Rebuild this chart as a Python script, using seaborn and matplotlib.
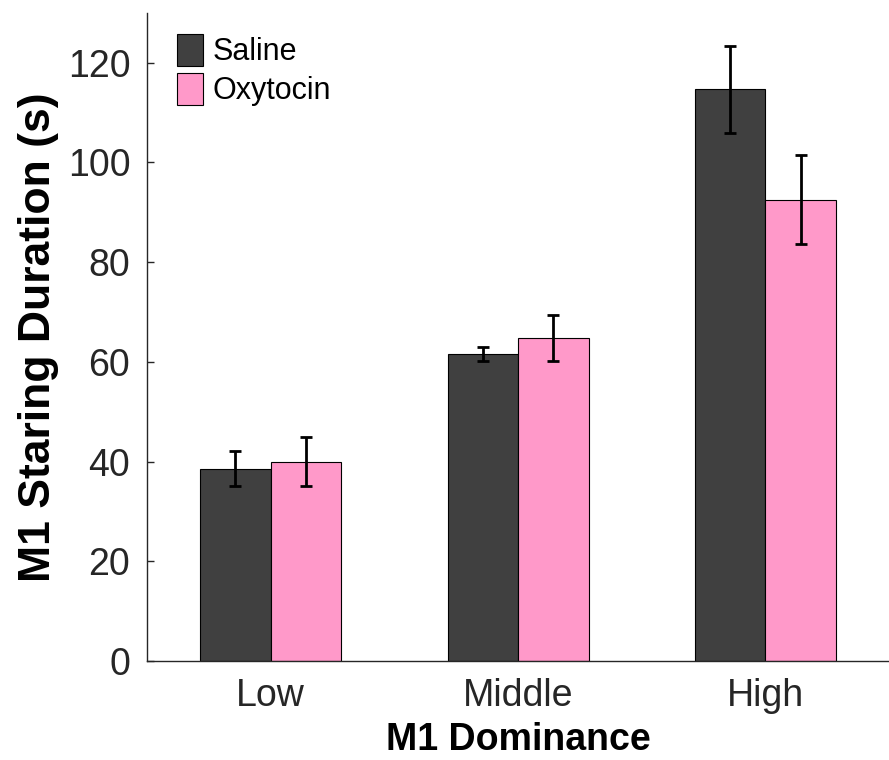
import matplotlib
matplotlib.use("Agg")
import matplotlib.pyplot as plt
import seaborn as sns
import pandas as pd
import numpy as np
from matplotlib.patches import Patch

categories = ["Low", "Middle", "High"]
treatments = ["Saline", "Oxytocin"]
saline_mean = [38.6, 61.6, 114.7]
saline_sem = [3.5, 1.4, 8.7]
oxytocin_mean = [40.0, 64.8, 92.5]
oxytocin_sem = [5.0, 4.7, 8.9]
yticks = [0, 20, 40, 60, 80, 100, 120]

colors = {"Saline": "#404040", "Oxytocin": "#FF99C9"}

df = pd.DataFrame({
    "Dominance": categories * 2,
    "Treatment": ["Saline"] * 3 + ["Oxytocin"] * 3,
    "Duration": saline_mean + oxytocin_mean,
    "SEM": saline_sem + oxytocin_sem,
})

sns.set_style("ticks")
plt.rcParams["font.family"] = ["Liberation Sans", "DejaVu Sans"]

fig = plt.figure(figsize=(8.89, 7.6), dpi=100)
ax = fig.add_axes([0.1654, 0.1303, 0.8346, 0.8527])

sns.barplot(data=df, x="Dominance", y="Duration", hue="Treatment",
            order=categories, hue_order=treatments, palette=colors,
            saturation=1, errorbar=None, width=0.57, edgecolor="black",
            linewidth=0.8, ax=ax, legend=False)

# error bars at each bar centre
for i, t in enumerate(treatments):
    cont = ax.containers[i]
    sub = df[df["Treatment"] == t].set_index("Dominance").loc[categories]
    xs = [p.get_x() + p.get_width() / 2 for p in cont.patches]
    ax.errorbar(xs, sub["Duration"].values, yerr=sub["SEM"].values,
                fmt="none", ecolor="black", elinewidth=2, capsize=4,
                capthick=2, zorder=5)

ax.set_xlim(-0.5, 2.5)
ax.set_ylim(0, 130)
ax.set_yticks(yticks)
ax.set_yticklabels([str(v) for v in yticks])
ax.tick_params(axis="y", direction="in", length=5, width=1, colors="#262626",
               labelsize=27, pad=12, labelcolor="#262626")
ax.tick_params(axis="x", length=0, labelsize=27, pad=12, labelcolor="#262626")
for s in ["top", "right"]:
    ax.spines[s].set_visible(False)
for s in ["left", "bottom"]:
    ax.spines[s].set_color("#262626")
    ax.spines[s].set_linewidth(1.0)

ax.set_xlabel("M1 Dominance", fontsize=27, fontweight="bold", labelpad=6,
              color="black")
ax.set_ylabel("M1 Staring Duration (s)", fontsize=32, fontweight="bold",
              labelpad=6, color="black")

handles = [Patch(facecolor=colors[t], edgecolor="black", linewidth=0.8, label=t)
           for t in treatments]
leg = ax.legend(handles=handles, loc="upper left", frameon=False,
                prop={"size": 22}, borderpad=0,
                handlelength=0.85, handleheight=1.2, handletextpad=0.3,
                labelspacing=0.2, bbox_to_anchor=(0.041, 0.967), borderaxespad=0)
for txt in leg.get_texts():
    txt.set_color("black")

fig.savefig("out.png", dpi=100)
